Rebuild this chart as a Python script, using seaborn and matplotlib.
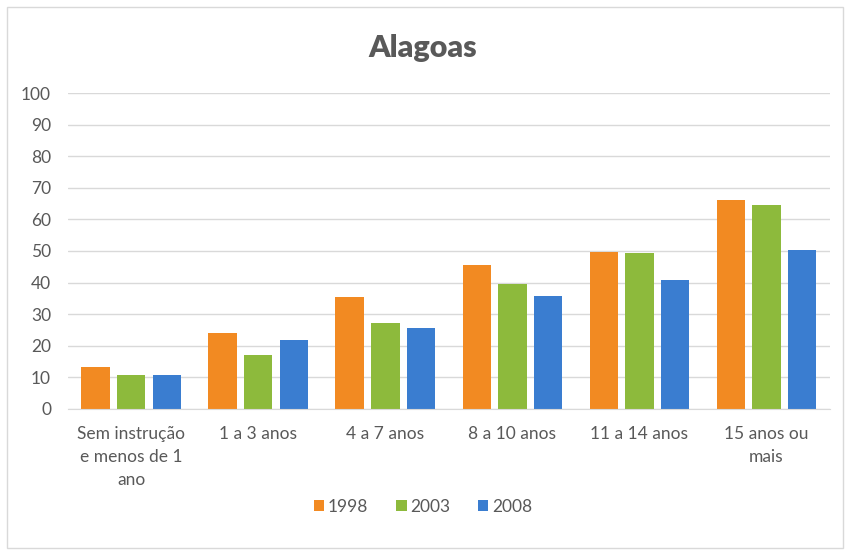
import pandas as pd
import seaborn as sns
import matplotlib.pyplot as plt
from matplotlib.patches import Rectangle

# Dados
categorias = ["Sem instrução\ne menos de 1\nano", "1 a 3 anos", "4 a 7 anos",
              "8 a 10 anos", "11 a 14 anos", "15 anos ou\nmais"]
anos = ["1998", "2003", "2008"]
v1998 = [13.3, 24.0, 35.3, 45.7, 49.6, 66.0]
v2003 = [10.8, 17.0, 27.3, 39.4, 49.3, 64.4]
v2008 = [10.8, 21.7, 25.5, 35.8, 40.8, 50.4]
cores = ["#F28A22", "#8DBA3C", "#3A7DD0"]

df = pd.DataFrame({
    "categoria": categorias * 3,
    "ano": [a for a in anos for _ in categorias],
    "valor": v1998 + v2003 + v2008,
})

sns.set_style("white")
plt.rcParams["font.family"] = ["Lato", "DejaVu Sans"]
texto = "#595959"

fig = plt.figure(figsize=(8.46, 5.54), dpi=100)
ax = fig.add_axes([0.080, 0.262, 0.901, 0.570])

sns.barplot(data=df, x="categoria", y="valor", hue="ano", palette=cores,
            width=0.84, gap=0.2, ax=ax, saturation=1, edgecolor="none")

ax.set_ylim(0, 100)
ax.set_yticks(range(0, 101, 10))
ax.yaxis.grid(True, color="#D9D9D9", linewidth=1)
ax.set_axisbelow(True)
for s in ["top", "right", "left"]:
    ax.spines[s].set_visible(False)
ax.spines["bottom"].set_color("#D9D9D9")
ax.tick_params(axis="both", length=0, labelsize=12.5, colors=texto)
ax.tick_params(axis="x", pad=12)
ax.tick_params(axis="y", pad=12)
for lbl in ax.get_xticklabels():
    lbl.set_linespacing(1.55)
ax.set_xlabel("")
ax.set_ylabel("")

fig.text(0.5, 0.913, "Alagoas", ha="center", va="center",
         fontsize=22, fontweight="heavy", color=texto)

handles, labels = ax.get_legend_handles_labels()
ax.legend(handles, labels, loc="center", bbox_to_anchor=(0.5, 0.085),
          bbox_transform=fig.transFigure, ncol=3, frameon=False,
          fontsize=12.5, handlelength=0.6, handleheight=0.6,
          handletextpad=0.2, columnspacing=1.6, labelcolor=texto)

fig.patches.append(Rectangle((0.008, 0.01), 0.989, 0.978, transform=fig.transFigure,
                             fill=False, edgecolor="#D9D9D9", linewidth=1))

fig.savefig("out.png", dpi=100)
